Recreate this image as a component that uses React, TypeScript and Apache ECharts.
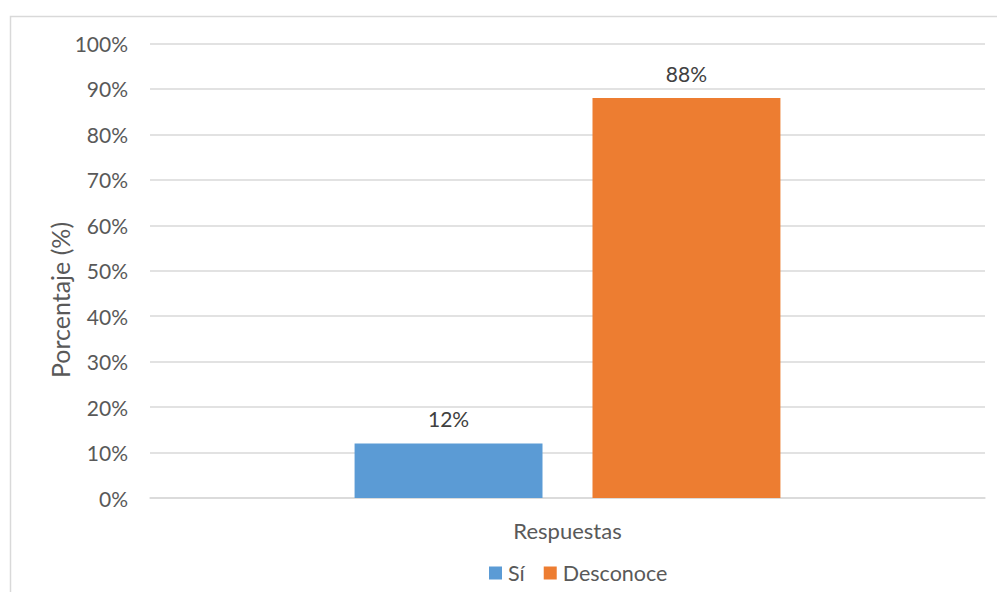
import React, { useEffect, useRef } from "react";
import * as echarts from "echarts";

const categories = ["Respuestas"];
const seriesNames = ["Sí", "Desconoce"];
const siValues = [12];
const desconoceValues = [88];
const colors = ["#5B9BD5", "#ED7D31"];
const yAxisTitle = "Porcentaje (%)";

export default function App() {
  const ref = useRef<HTMLDivElement>(null);
  useEffect(() => {
    document.body.style.margin = "0";
    const chart = echarts.init(ref.current!, null, { renderer: "svg" });
    const font = "Lato, 'Liberation Sans', sans-serif";
    const label = {
      show: true,
      position: "top",
      distance: 14,
      formatter: "{c}%",
      fontSize: 21,
      color: "#404040",
      fontFamily: font,
    };
    chart.setOption({
      animation: false,
      backgroundColor: "#ffffff",
      textStyle: { fontFamily: font },
      graphic: [
        {
          type: "rect",
          shape: { x: 10.5, y: 16.5, width: 1000, height: 600 },
          style: { fill: "none", stroke: "#d9d9d9", lineWidth: 1.5 },
          silent: true,
          z: -1,
        },
        {
          type: "text",
          x: 60,
          y: 300,
          rotation: Math.PI / 2,
          style: {
            text: yAxisTitle,
            fontSize: 25,
            fill: "#595959",
            fontFamily: font,
            align: "center",
            verticalAlign: "middle",
          },
          silent: true,
        },
      ],
      grid: { left: 150, right: 12, top: 43.5, bottom: 94 },
      legend: {
        bottom: 3,
        left: 484,
        itemWidth: 13,
        itemHeight: 13,
        itemGap: 19,
        icon: "rect",
        textStyle: { fontSize: 21.5, color: "#595959", fontFamily: font, padding: [0, 0, 0, 1] },
        data: seriesNames,
      },
      xAxis: {
        type: "category",
        data: categories,
        axisLine: { lineStyle: { color: "#d9d9d9", width: 1.5 } },
        axisTick: { show: false },
        axisLabel: { fontSize: 22, color: "#595959", margin: 21, fontFamily: font },
      },
      yAxis: {
        type: "value",
        min: 0,
        max: 100,
        interval: 10,
        axisLine: { show: false },
        axisTick: { show: false },
        axisLabel: {
          formatter: "{value}%",
          fontSize: 21,
          color: "#595959",
          margin: 22,
          fontFamily: font,
        },
        splitLine: { lineStyle: { color: "#d9d9d9", width: 1.5 } },
      },
      series: [
        {
          name: seriesNames[0],
          type: "bar",
          data: siValues,
          itemStyle: { color: colors[0] },
          barGap: "26.6%",
          barCategoryGap: "49%",
          label,
        },
        {
          name: seriesNames[1],
          type: "bar",
          data: desconoceValues,
          itemStyle: { color: colors[1] },
          barGap: "26.6%",
          barCategoryGap: "49%",
          label,
        },
      ],
    });
    return () => chart.dispose();
  }, []);
  return (
    <div
      ref={ref}
      style={{ position: "absolute", left: 0, top: 0, width: 997, height: 592 }}
    />
  );
}
